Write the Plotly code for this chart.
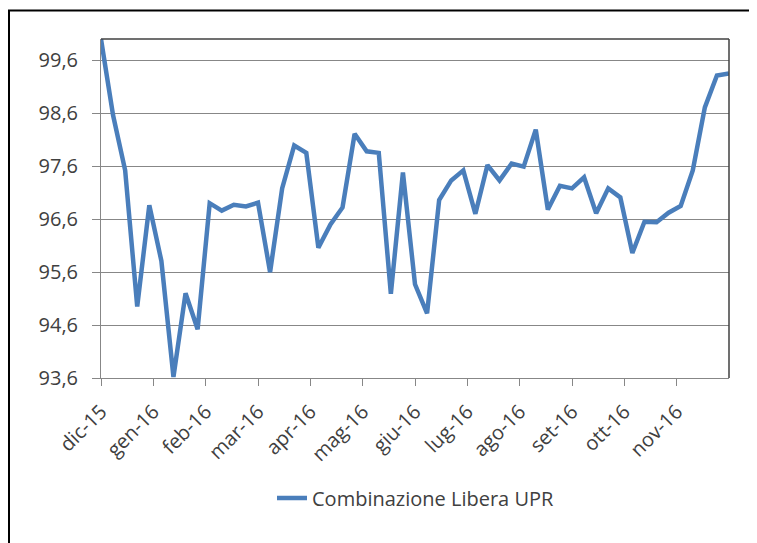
import plotly.graph_objects as go

month_labels = ["dic-15", "gen-16", "feb-16", "mar-16", "apr-16", "mag-16",
                "giu-16", "lug-16", "ago-16", "set-16", "ott-16", "nov-16"]

series_name = "Combinazione Libera UPR"
values = [100.0, 98.56, 97.52, 94.95, 96.86, 95.81, 93.62, 95.2, 94.52, 96.9,
          96.76, 96.87, 96.84, 96.91, 95.6, 97.18, 97.99, 97.85, 96.06, 96.5,
          96.82, 98.21, 97.88, 97.85, 95.19, 97.48, 95.37, 94.82, 96.96, 97.33,
          97.52, 96.7, 97.62, 97.33, 97.65, 97.59, 98.29, 96.78, 97.23, 97.18,
          97.39, 96.71, 97.18, 97.01, 95.96, 96.55, 96.54, 96.72, 96.85, 97.52,
          98.71, 99.31, 99.35]

y_ticks = [93.6, 94.6, 95.6, 96.6, 97.6, 98.6, 99.6]

x_idx = list(range(len(values)))
n_int = len(values) - 1
tickvals = [i * n_int / 12 for i in range(len(month_labels))]

# page has an 8px body margin; figure coordinates = page coordinates - 8
OFF = 8
W, H = 757 - OFF, 543 - OFF
L, R, T, B = 101 - OFF, 28, 39 - OFF, 165
pw, ph = W - L - R, H - T - B

def px(x):  # page x -> paper x
    return (x - OFF - L) / pw

def py(y):  # page y -> paper y
    return (H - B - (y - OFF)) / ph

font = "Open Sans"
txt = "#404040"
grid = "#878787"
fs = 20

fig = go.Figure()
fig.add_trace(go.Scatter(x=x_idx, y=values, mode="lines", name=series_name,
                         line=dict(color="#4A7EBB", width=4.5)))

fig.update_layout(
    width=W, height=H,
    margin=dict(l=L, r=R, t=T, b=B),
    paper_bgcolor="white", plot_bgcolor="white",
    separators=",.",
    font=dict(family=font, size=fs, color=txt),
    showlegend=True,
    legend=dict(x=px(272), y=py(498), xanchor="left", yanchor="middle",
                orientation="h", font=dict(size=fs, color=txt),
                bgcolor="rgba(0,0,0,0)"),
    xaxis=dict(range=[0, n_int], tickmode="array", tickvals=tickvals,
               ticktext=month_labels, tickangle=-45, ticks="outside",
               ticklen=7, tickcolor=grid, showline=True, linecolor=grid,
               linewidth=1, showgrid=False, zeroline=False,
               ticklabelstandoff=6, tickfont=dict(size=fs, color=txt)),
    yaxis=dict(range=[93.6, 100.0], tickmode="array", tickvals=y_ticks,
               tickformat=".1f", ticks="outside", ticklen=8, tickcolor=grid,
               showline=True, linecolor=grid, linewidth=1, showgrid=True,
               gridcolor=grid, gridwidth=1, zeroline=False,
               ticklabelstandoff=10, tickfont=dict(size=fs, color=txt)),
    shapes=[
        dict(type="line", xref="paper", yref="paper", x0=0, x1=1, y0=1, y1=1,
             line=dict(color="#404040", width=1.5)),
        dict(type="line", xref="paper", yref="paper", x0=1, x1=1, y0=0, y1=1,
             line=dict(color="#404040", width=1.5)),
        dict(type="line", xref="paper", yref="paper", x0=px(8), x1=px(760),
             y0=py(10.5), y1=py(10.5), line=dict(color="black", width=2)),
        dict(type="line", xref="paper", yref="paper", x0=px(9), x1=px(9),
             y0=py(10), y1=py(546), line=dict(color="black", width=2)),
    ],
)

fig.write_html("out.html")
